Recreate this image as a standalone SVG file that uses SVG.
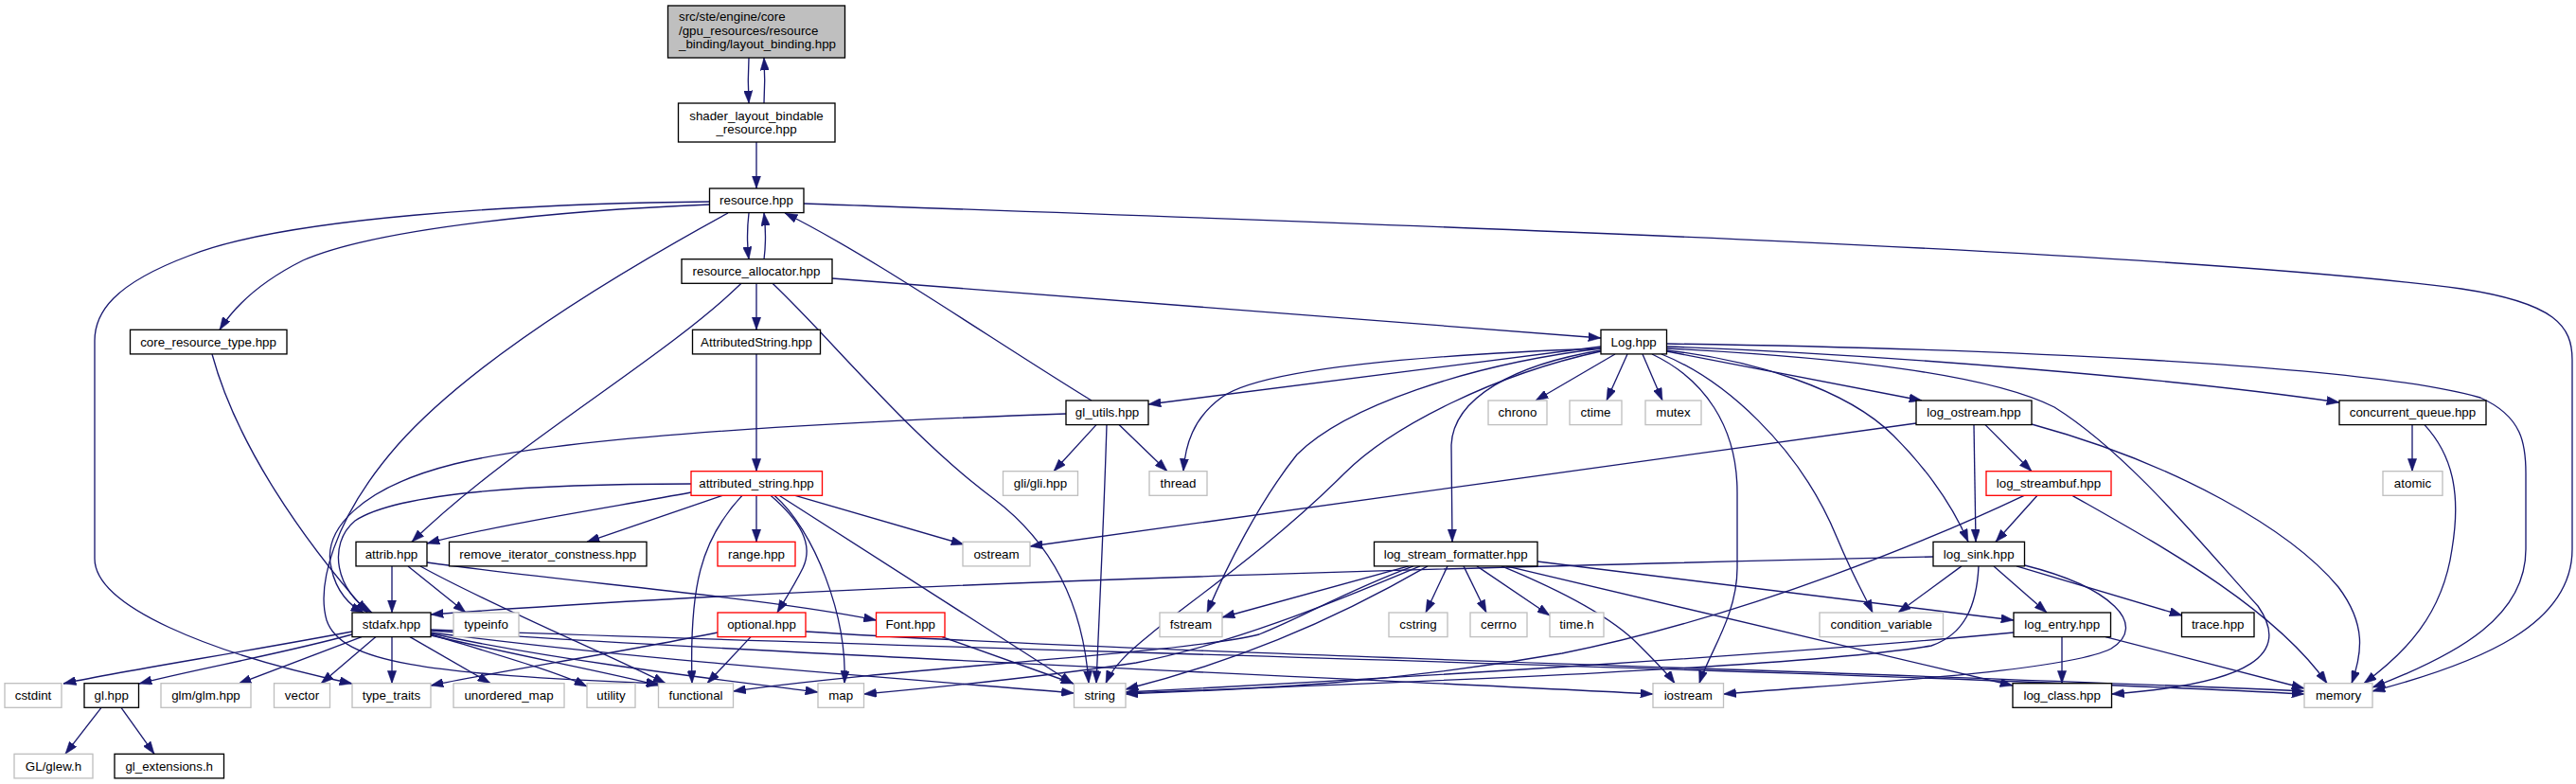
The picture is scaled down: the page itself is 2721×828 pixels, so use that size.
<svg xmlns="http://www.w3.org/2000/svg" width="2721" height="828" viewBox="0 0 2721 828">
<defs>
<marker id="a" markerUnits="userSpaceOnUse" markerWidth="13.3" markerHeight="9.3" viewBox="0 0 13.3 9.3" refX="13.3" refY="4.65" orient="auto"><path d="M0,0 L13.3,4.65 L0,9.3 z" fill="#191970" stroke="#191970" stroke-width="0.5"/></marker>
<style>
rect{fill:#fff;stroke:#000;stroke-width:1.33}
.g rect{stroke:#bfbfbf}
.r rect{stroke:#ff0000}
text{font-family:"Liberation Sans",Arial,Helvetica,sans-serif;font-size:13.33px;text-anchor:middle;fill:#000}
#edges path{fill:none;stroke:#191970;stroke-width:1.33;marker-end:url(#a)}
</style>
</defs>
<rect x="0" y="0" width="2721" height="828" style="fill:#fff;stroke:none"/>
<g id="edges">
<path d="M791,61 C790,78 790,92 791,109"/>
<path d="M807,109 C808,92 808,78 807,61"/>
<path d="M799,150 L799,199"/>
<path d="M791,225 C789,242 789,258 791,274"/>
<path d="M807,274 C809,258 809,242 807,225"/>
<path d="M750,216 C600,222 400,240 320,275 C280,295 250,320 232,348.3"/>
<path d="M750,213 C550,215 300,230 200,270 C120,300 100,330 100,360 L100,590 C100,640 220,690 372,722"/>
<path d="M769,225 C650,290 500,380 420,470 C350,550 335,620 345,655 C360,700 450,712 696,722"/>
<path d="M849,215 C1500,238 2300,265 2600,305 C2700,320 2717,345 2717,380 L2717,580 C2717,660 2620,700 2506,730"/>
<path d="M799,299.3 L799,348.3"/>
<path d="M783,299.3 C700,380 540,470 435,572.3"/>
<path d="M816,299.3 C880,360 960,460 1050,527 C1120,580 1145,650 1150,721.7"/>
<path d="M879,294 C1200,318 1500,342 1691,357"/>
<path d="M224,374 C250,470 320,570 388,647"/>
<path d="M799,374 L799,497.7"/>
<path d="M1153,423 C1050,360 920,270 829,225"/>
<path d="M1126,437 C900,445 600,460 480,490 C380,515 340,560 350,600 C355,625 370,640 384,647"/>
<path d="M1158,448.6 L1113,497.7"/>
<path d="M1182,448.6 L1233,497.7"/>
<path d="M1169,448.6 C1166,550 1161,650 1158,721.7"/>
<path d="M1691,366 L1213,427"/>
<path d="M1691,368 C1500,375 1330,390 1290,420 C1260,442 1252,470 1250,497.7"/>
<path d="M1706,374 L1622,423"/>
<path d="M1719,374 L1697,423"/>
<path d="M1735,374 L1756,423"/>
<path d="M1760.5,371 L2030,423"/>
<path d="M1760.5,366 C2000,375 2300,400 2471,425"/>
<path d="M1760.5,363 C2100,368 2500,385 2620,420 C2665,440 2668,470 2668,500 L2668,580 C2668,650 2600,690 2506,726"/>
<path d="M1691,370 C1600,385 1535,420 1533,470 L1534,572.3"/>
<path d="M1691,368 C1550,385 1420,430 1370,480 C1330,530 1295,600 1275,647"/>
<path d="M1691,371 C1580,395 1470,450 1420,500 C1340,580 1250,640 1215,670 C1190,690 1175,705 1168,721.7"/>
<path d="M1745,374 C1800,400 1835,450 1835,520 L1835,600 C1835,650 1805,690 1795,721.7"/>
<path d="M1755,374 C1820,400 1900,470 1940,567 C1958,610 1970,630 1978,647"/>
<path d="M1760.5,370 C1850,380 1950,410 2000,460 C2040,500 2065,540 2079,572.3"/>
<path d="M1760.5,368 C1950,378 2100,395 2170,430 C2250,480 2330,580 2385,640 C2420,690 2380,722 2230.5,733"/>
<path d="M2024,447 L1088,577"/>
<path d="M2097,448.6 L2146,497.7"/>
<path d="M2085,448.6 L2087,572.3"/>
<path d="M2146,448 C2300,490 2420,560 2470,620 C2500,660 2495,690 2484,721.7"/>
<path d="M2548,448.6 L2548,497.7"/>
<path d="M2561,448.6 C2590,480 2600,520 2590,580 C2580,650 2540,690 2497,721.7"/>
<path d="M730,511 C560,511 420,520 375,550 C345,575 355,625 393,647"/>
<path d="M730,520 C650,535 520,555 451,574"/>
<path d="M763,523.3 L620,572.3"/>
<path d="M784,523.3 C740,570 728,620 731,721.7"/>
<path d="M799,523.3 L799,572.3"/>
<path d="M814,523.3 C845,550 860,575 848,600 C838,620 828,635 821,647"/>
<path d="M818,523.3 C860,560 895,650 892,721.7"/>
<path d="M823,523.3 L1133,721.7"/>
<path d="M840,523.3 L1018,575"/>
<path d="M414,598 L414,647"/>
<path d="M431,598 L492,647"/>
<path d="M444,598 C520,640 640,690 703,721.7"/>
<path d="M451,594 C600,615 800,630 925.5,655"/>
<path d="M372,667 C250,690 120,710 67,722"/>
<path d="M372,670 C300,690 200,708 147,722"/>
<path d="M382,672.6 L252,722"/>
<path d="M397,672.6 L339,722"/>
<path d="M414,672.6 L414,721.7"/>
<path d="M433,672.6 L518,721.7"/>
<path d="M455,670 C520,690 590,710 620,725"/>
<path d="M455,671 C560,695 650,712 696,724"/>
<path d="M455,669 C600,700 780,720 864,731"/>
<path d="M455,668 C700,700 1000,720 1134.5,732"/>
<path d="M455,666 C800,690 1400,715 1746,733"/>
<path d="M455,665 C1000,685 2000,710 2434,733"/>
<path d="M107,747.3 L69,796.3"/>
<path d="M128,747.3 L163,796.3"/>
<path d="M758,668 C650,690 520,710 455,724"/>
<path d="M793,672.6 L747,721.7"/>
<path d="M851,667 C1200,690 2000,710 2434,730"/>
<path d="M995,672.6 L1134,722"/>
<path d="M1488,597.9 L1291,652"/>
<path d="M1493,597.9 C1420,625 1380,650 1330,670 C1250,690 950,705 774.5,730"/>
<path d="M1500,597.9 C1400,640 1300,680 1200,700 C1100,715 1000,725 912.5,733"/>
<path d="M1508,597.9 C1400,660 1300,700 1189,728"/>
<path d="M1529,597.9 L1506,647"/>
<path d="M1546,597.9 L1570,647"/>
<path d="M1560,597.9 L1637,650"/>
<path d="M1586,597.9 C1640,620 1700,650 1730,680 C1750,700 1762,712 1769,721.7"/>
<path d="M1591,597.9 L2126,724"/>
<path d="M1624,593 L2127,655"/>
<path d="M2042,588 C1600,598 900,615 455,649"/>
<path d="M2072,597.9 L2005,647"/>
<path d="M2106,597.9 L2162,647"/>
<path d="M2130,597.9 L2305,650"/>
<path d="M2138.5,597 C2230,620 2270,660 2230,685 C2180,710 1950,722 1820.5,733"/>
<path d="M2090,597.9 C2088,640 2075,670 2040,682 C1900,705 1500,720 1189,732"/>
<path d="M2152,523.3 L2108,572.3"/>
<path d="M2189,523.3 C2280,575 2400,640 2458,721.7"/>
<path d="M2138,523.3 C2050,565 1850,650 1650,690 C1450,725 1300,728 1189,733"/>
<path d="M2178,672.6 L2178,721.7"/>
<path d="M2224,672.6 L2434,727"/>
<path d="M2127,668 C1900,690 1500,715 1189,731"/>
</g>
<g id="n_top"><rect x="705.5" y="6" width="187" height="55" style="fill:#bfbfbf"/><text x="717" y="22" style="text-anchor:start">src/ste/engine/core</text><text x="717" y="36.5" style="text-anchor:start">/gpu_resources/resource</text><text x="717" y="51" style="text-anchor:start">_binding/layout_binding.hpp</text></g>
<g id="n_shader"><rect x="716.5" y="109" width="165.5" height="41"/><text x="799" y="126.5">shader_layout_bindable</text><text x="799" y="141">_resource.hpp</text></g>
<g id="n_resource"><rect x="749.5" y="199" width="99.5" height="25.6"/><text x="799" y="216.3">resource.hpp</text></g>
<g id="n_alloc"><rect x="720" y="273.7" width="159" height="25.6"/><text x="799" y="291">resource_allocator.hpp</text></g>
<g id="n_core"><rect x="137.5" y="348.3" width="165.5" height="25.6"/><text x="220" y="365.6">core_resource_type.hpp</text></g>
<g id="n_astr1"><rect x="731.5" y="348.3" width="135" height="25.6"/><text x="799" y="365.6">AttributedString.hpp</text></g>
<g id="n_log"><rect x="1691" y="348.3" width="69.5" height="25.6"/><text x="1725.7" y="365.6">Log.hpp</text></g>
<g id="n_glutils"><rect x="1126" y="423" width="87" height="25.6"/><text x="1169.5" y="440.3">gl_utils.hpp</text></g>
<g id="n_chrono" class="g"><rect x="1572" y="423" width="62" height="25.6"/><text x="1603" y="440.3">chrono</text></g>
<g id="n_ctime" class="g"><rect x="1658" y="423" width="55" height="25.6"/><text x="1685.5" y="440.3">ctime</text></g>
<g id="n_mutex" class="g"><rect x="1738" y="423" width="59" height="25.6"/><text x="1767.5" y="440.3">mutex</text></g>
<g id="n_logostream"><rect x="2024" y="423" width="122" height="25.6"/><text x="2085" y="440.3">log_ostream.hpp</text></g>
<g id="n_cq"><rect x="2471" y="423" width="155" height="25.6"/><text x="2548.5" y="440.3">concurrent_queue.hpp</text></g>
<g id="n_astr2" class="r"><rect x="730" y="497.7" width="138.5" height="25.6"/><text x="799" y="515">attributed_string.hpp</text></g>
<g id="n_gli" class="g"><rect x="1059.5" y="497.7" width="79" height="25.6"/><text x="1099" y="515">gli/gli.hpp</text></g>
<g id="n_thread" class="g"><rect x="1214" y="497.7" width="61" height="25.6"/><text x="1244.5" y="515">thread</text></g>
<g id="n_streambuf" class="r"><rect x="2098" y="497.7" width="132" height="25.6"/><text x="2164" y="515">log_streambuf.hpp</text></g>
<g id="n_atomic" class="g"><rect x="2517" y="497.7" width="63" height="25.6"/><text x="2548.5" y="515">atomic</text></g>
<g id="n_attrib"><rect x="376" y="572.3" width="75" height="25.6"/><text x="413.5" y="589.6">attrib.hpp</text></g>
<g id="n_rmiter"><rect x="474.5" y="572.3" width="208.5" height="25.6"/><text x="578.7" y="589.6">remove_iterator_constness.hpp</text></g>
<g id="n_range" class="r"><rect x="758" y="572.3" width="82" height="25.6"/><text x="799" y="589.6">range.hpp</text></g>
<g id="n_ostream" class="g"><rect x="1017" y="572.3" width="71" height="25.6"/><text x="1052.5" y="589.6">ostream</text></g>
<g id="n_lsf"><rect x="1451.5" y="572.3" width="172.5" height="25.6"/><text x="1537.7" y="589.6">log_stream_formatter.hpp</text></g>
<g id="n_logsink"><rect x="2042" y="572.3" width="96.5" height="25.6"/><text x="2090.2" y="589.6">log_sink.hpp</text></g>
<g id="n_stdafx"><rect x="372" y="647" width="83" height="25.6"/><text x="413.5" y="664.3">stdafx.hpp</text></g>
<g id="n_typeinfo" class="g"><rect x="479" y="647" width="69" height="25.6"/><text x="513.5" y="664.3">typeinfo</text></g>
<g id="n_optional" class="r"><rect x="758" y="647" width="93" height="25.6"/><text x="804.5" y="664.3">optional.hpp</text></g>
<g id="n_font" class="r"><rect x="925.5" y="647" width="72.5" height="25.6"/><text x="961.7" y="664.3">Font.hpp</text></g>
<g id="n_fstream" class="g"><rect x="1225" y="647" width="66" height="25.6"/><text x="1258" y="664.3">fstream</text></g>
<g id="n_cstring" class="g"><rect x="1467" y="647" width="62" height="25.6"/><text x="1498" y="664.3">cstring</text></g>
<g id="n_cerrno" class="g"><rect x="1553" y="647" width="60" height="25.6"/><text x="1583" y="664.3">cerrno</text></g>
<g id="n_timeh" class="g"><rect x="1637" y="647" width="57" height="25.6"/><text x="1665.5" y="664.3">time.h</text></g>
<g id="n_condvar" class="g"><rect x="1922" y="647" width="130.5" height="25.6"/><text x="1987.2" y="664.3">condition_variable</text></g>
<g id="n_logentry"><rect x="2127" y="647" width="102.5" height="25.6"/><text x="2178.2" y="664.3">log_entry.hpp</text></g>
<g id="n_trace"><rect x="2304.5" y="647" width="76.5" height="25.6"/><text x="2342.7" y="664.3">trace.hpp</text></g>
<g id="n_cstdint" class="g"><rect x="5" y="721.7" width="60" height="25.6"/><text x="35" y="739">cstdint</text></g>
<g id="n_glhpp"><rect x="89" y="721.7" width="57.5" height="25.6"/><text x="117.7" y="739">gl.hpp</text></g>
<g id="n_glm" class="g"><rect x="170" y="721.7" width="95" height="25.6"/><text x="217.5" y="739">glm/glm.hpp</text></g>
<g id="n_vector" class="g"><rect x="289.5" y="721.7" width="59" height="25.6"/><text x="319" y="739">vector</text></g>
<g id="n_typetraits" class="g"><rect x="372" y="721.7" width="83" height="25.6"/><text x="413.5" y="739">type_traits</text></g>
<g id="n_umap" class="g"><rect x="479" y="721.7" width="117" height="25.6"/><text x="537.5" y="739">unordered_map</text></g>
<g id="n_utility" class="g"><rect x="620" y="721.7" width="51" height="25.6"/><text x="645.5" y="739">utility</text></g>
<g id="n_functional" class="g"><rect x="695.5" y="721.7" width="79" height="25.6"/><text x="735" y="739">functional</text></g>
<g id="n_map" class="g"><rect x="864" y="721.7" width="48.5" height="25.6"/><text x="888.2" y="739">map</text></g>
<g id="n_string" class="g"><rect x="1134.5" y="721.7" width="54.5" height="25.6"/><text x="1161.7" y="739">string</text></g>
<g id="n_iostream" class="g"><rect x="1746" y="721.7" width="74.5" height="25.6"/><text x="1783.2" y="739">iostream</text></g>
<g id="n_logclass"><rect x="2126" y="721.7" width="104.5" height="25.6"/><text x="2178.2" y="739">log_class.hpp</text></g>
<g id="n_memory" class="g"><rect x="2434" y="721.7" width="72" height="25.6"/><text x="2470" y="739">memory</text></g>
<g id="n_glew" class="g"><rect x="15" y="796.3" width="83" height="25.6"/><text x="56.5" y="813.6">GL/glew.h</text></g>
<g id="n_glext"><rect x="121" y="796.3" width="115.5" height="25.6"/><text x="178.7" y="813.6">gl_extensions.h</text></g>
</svg>
